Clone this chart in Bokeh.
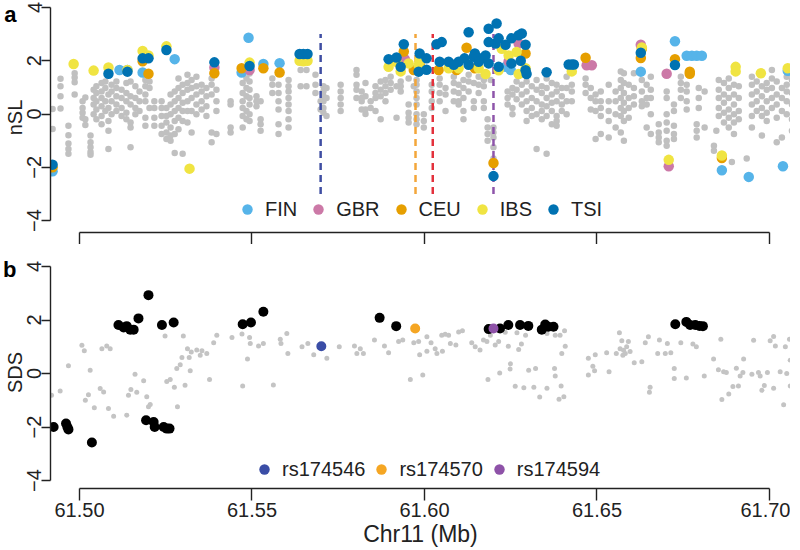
from bokeh.plotting import figure
from bokeh.models import Range1d, FixedTicker, LinearAxis
from bokeh.layouts import column
from bokeh.embed import file_html
from bokeh.resources import INLINE

# ---------------- data ----------------
x_ticks = [61.50, 61.55, 61.60, 61.65, 61.70]
x_tick_labels = ["61.50", "61.55", "61.60", "61.65", "61.70"]
y_ticks = [-4, -2, 0, 2, 4]

# panel a: grey nSL values (position, values of the SNP across populations)
nsl_grey = [
    (61.4922, [0.19, -0.56]), (61.4945, [1.32, 1.04, 0.67, 0.21]),
    (61.4968, [-0.44, -0.80, -1.11, -1.31, -1.49]), (61.4986, [1.53, 1.37, 1.19, 0.73]),
    (61.5009, [0.48, 0.23, 0.05, -0.14]), (61.5017, [-0.20, -0.41, 0.62]),
    (61.5032, [-0.81, -1.06, -1.25, -1.43, -1.53]), (61.5041, [0.91, 0.60, 0.36, -0.01]),
    (61.5049, [1.04, 0.79, 0.48, 0.17, -0.20]), (61.5064, [1.16, 0.85, 0.60, 0.29, -0.07, -0.38]),
    (61.5075, [1.22, 0.98, 0.48, 0.11]), (61.5084, [0.73, 0.23, -0.26, -0.63, -1.31]),
    (61.5093, [1.10, 0.85, 0.48, -0.01]), (61.5107, [1.22, 0.98, 0.67, 0.36, 0.11]),
    (61.5122, [0.91, 0.60, 0.23, -0.07]), (61.5136, [1.16, 0.79, 0.48, 0.05, -0.20]),
    (61.5148, [1.22, 0.67, 0.36, -0.32, -0.51, -1.25]), (61.5162, [1.04, 0.60, 0.23, -0.01]),
    (61.5174, [0.85, 0.48, 0.11]), (61.5191, [1.28, 1.04, 0.73, 0.48, -0.14, -0.44]),
    (61.5203, [1.22, 0.98, 0.23]), (61.5217, [0.48, 0.23, -0.14, -0.44]),
    (61.5238, [0.48, 0.23, -0.07, -0.44, -0.75]), (61.5252, [0.23, -0.07, -0.32, -0.69, -0.94]),
    (61.5264, [0.73, 0.36, -0.01, -0.51, -0.81, -1.00]), (61.5276, [0.85, 0.48, 0.11, -0.26, -0.75, -1.46]),
    (61.5287, [1.33, 0.98, 0.60, 0.23, -0.14, -0.57]), (61.5299, [1.10, 0.79, 0.42, 0.11, -0.26, -1.49]),
    (61.5313, [1.47, 1.16, 0.91, 0.48, 0.11, -0.32]), (61.5325, [1.28, 0.98, 0.60, 0.11, -0.69]),
    (61.5339, [1.40, 1.04, 0.73, 0.36, -0.01]), (61.5354, [1.10, 0.85, 0.48, 0.17]),
    (61.5368, [0.98, 0.67, 0.29, -0.07]), (61.5383, [1.33, 1.10, 0.73, -0.69, -1.06]),
    (61.5397, [0.91, 0.48, 0.11, -0.75]), (61.5438, [0.48, 0.36, -0.51, -0.69]),
    (61.5473, [1.16, 0.79, 0.48, 0.23, -0.07, -0.51]), (61.5484, [1.33, 0.98, 0.67, 0.11, -0.20]),
    (61.5493, [1.52, 1.22, 0.91, 0.60, 0.36, -0.01, -0.26]), (61.5513, [0.67, 0.48, 0.29]),
    (61.5525, [0.48, -0.20, -0.38, -0.63]), (61.5559, [1.33, 1.10, 0.79]),
    (61.5577, [1.10, 0.79, 0.48, 0.17, -0.38, -0.75]),
    (61.5606, [1.28, 1.04, 0.85, 0.60, 0.36, 0.11, -0.20, -0.51]),
    (61.5641, [1.65, 1.04]), (61.5658, [1.65, 1.04]), (61.5684, [1.47, 1.10, 0.79]),
    (61.5699, [0.48, 0.17]), (61.5707, [1.04, 0.85, 0.67, 0.48, 0.23, 0.05]),
    (61.5716, [0.98, 0.60, -0.07]), (61.5757, [1.10, 0.85, 0.60, 0.36, 0.11]),
    (61.5803, [1.65, 1.47, 1.10, 0.91, 0.60]), (61.5818, [0.85, 0.60, 0.48, 0.17]),
    (61.5829, [1.16, 0.67, 0.17, 0.00]), (61.5844, [0.48, 0.23]),
    (61.5858, [1.04, 0.79, 0.60, 0.11]), (61.5873, [1.22, 0.91, 0.67, -0.20]),
    (61.5887, [1.28, 1.04, 0.79, 0.48]), (61.5902, [1.40, 1.16, 0.91]),
    (61.5919, [1.04, -0.14]), (61.5931, [1.22, 1.04, 0.85]),
    (61.5954, [1.33, 0.36, 0.05, -0.14, -0.32]), (61.5969, [1.04]),
    (61.5977, [1.28, 1.10, 0.85, 0.60, 0.36, -0.01, -0.20, -0.38]),
    (61.5998, [-0.01, -0.26, -0.51]), (61.6021, [1.10, 0.85, 0.48, 0.23]),
    (61.6044, [1.33, 1.10, 0.79, 0.48]), (61.6061, [0.98, 0.73, 0.11]),
    (61.6085, [1.40, 1.16, 0.85, 0.48]), (61.6099, [1.10, 0.79, 0.48, 0.36]),
    (61.6113, [1.28, 0.98, 0.60, 0.11, -0.20]), (61.6128, [1.47, 1.22, 0.85]),
    (61.6143, [1.16, 0.48, 0.23]), (61.6157, [1.40, 1.10, 0.79]),
    (61.6172, [1.28, 1.04, 0.48, 0.23]), (61.6183, [-0.20, -0.51, -0.75, -1.00]),
    (61.6192, [1.28]), (61.6200, [-0.51, -0.69, -0.88, -1.25, -1.67]),
    (61.6241, [0.85, 0.60, 0.36]), (61.6255, [0.98, 0.73, 0.23, -0.01]),
    (61.6267, [1.22, 0.91, 0.55]), (61.6282, [1.47, 1.10, 0.73, 0.36]),
    (61.6296, [1.22, 0.85, 0.48, 0.11, -0.26]), (61.6311, [1.04, 0.60, 0.23, -0.07]),
    (61.6325, [1.28, 0.91, 0.48, -0.01, -1.31]), (61.6340, [1.04, 0.79, 0.36, 0.11, -0.20]),
    (61.6354, [1.33, 0.98, 0.60, 0.29, -0.07, -1.49]), (61.6369, [1.16, 0.73, 0.42, 0.11, -0.38]),
    (61.6383, [1.10, 0.85, 0.48, -0.07, -0.26, -0.44]), (61.6398, [0.98, 0.67, 0.36, 0.11]),
    (61.6412, [1.40, 0.98, 0.48, -0.01]), (61.6427, [1.10, 0.85, 0.48]),
    (61.6467, [1.33, 1.10, 0.79]), (61.6482, [0.98, 0.60, 0.17]),
    (61.6496, [0.73, 0.48, 0.11, -0.94]), (61.6511, [0.85, 0.48, 0.23, -0.07, -0.75]),
    (61.6534, [1.10, 0.48, 0.11, -0.26, -0.88]), (61.6554, [0.85, 0.48, -0.01, -0.51]),
    (61.6569, [1.60, 1.28, 0.98, 0.60, 0.23, -0.07, -0.69]),
    (61.6578, [1.53, 1.16, 0.79, 0.42, 0.11, -0.26, -1.00]),
    (61.6592, [1.10, 0.60, 0.23, -0.14]), (61.6607, [1.53, 0.98, 0.67, 0.36]),
    (61.6630, [1.28, 0.85, 0.48, 0.29]), (61.6644, [1.10, 0.60, 0.36, -0.51]),
    (61.6656, [1.40, 0.91, 0.60, -0.01, -0.75]), (61.6679, [-0.38, -0.69, -0.88, -1.06]),
    (61.6702, [0.85, 0.60, -0.01, -0.32, -0.63, -1.00, -1.19]),
    (61.6723, [0.36, 0.11, -0.44, -0.75, -0.94]), (61.6743, [1.40, 1.16, 0.91, 0.60]),
    (61.6760, [1.10, 0.85, 0.48, 0.17]), (61.6789, [-0.38, -0.63, -0.88]),
    (61.6795, [0.98, 0.60, 0.23]), (61.6812, [0.85, -0.51]),
    (61.6839, [-1.19, -1.38]), (61.6846, [-0.63]),
    (61.6853, [1.28, 0.91, 0.60, 0.23, -0.07]), (61.6868, [1.16, 0.73, 0.42, 0.05, -0.32]),
    (61.6882, [1.33, 0.98, 0.60, 0.17, -0.14, -0.51]), (61.6891, [-1.80]),
    (61.6897, [1.10, 0.73, 0.36, -0.01, -0.32, -0.75]), (61.6911, [1.04, 0.60, 0.11, -0.20]),
    (61.6934, [-1.67]), (61.6949, [1.40, 1.10, 0.73, 0.36, -0.07, -0.51]),
    (61.6963, [1.22, 0.85, 0.48, 0.11]), (61.6978, [1.04, 0.67, 0.23, -0.07, -0.81]),
    (61.6992, [1.16, 0.91, 0.48, 0.05, -0.26]), (61.7007, [1.65, 1.33, 0.98, 0.60, 0.23]),
    (61.7021, [1.22, 0.73, 0.36, -0.14, -1.06]), (61.7036, [0.98, 0.60, 0.11, -0.88]),
    (61.7050, [1.40, 1.10, 0.85, 0.48, -0.01]), (61.7065, [1.28, 0.79, 0.36, -0.20, -0.63]),
]

# panel a: significant nSL per population
fin_pos = [61.4922, 61.5116, 61.5139, 61.5183, 61.5276, 61.5470, 61.5490, 61.5533, 61.5580,
           61.6235, 61.6250, 61.6627, 61.6726, 61.6760, 61.6775, 61.6789, 61.6804, 61.7053,
           61.6862, 61.6940, 61.7039, 61.7076]
fin_nsl = [-2.15, 1.65, 1.65, 1.56, 2.06, 1.56, 2.86, 1.88, 1.91,
           1.77, 1.65, 1.59, 2.73, 2.19, 2.19, 2.19, 2.19, 1.62,
           -2.11, -2.36, -1.96, -1.90]

gbr_pos = [61.5391, 61.5493, 61.5943, 61.6244, 61.6273, 61.6470, 61.6485, 61.6627, 61.6702, 61.6708]
gbr_nsl = [1.75, 1.65, 2.06, 1.98, 2.65, 1.83, 1.83, 2.60, 1.51, -1.96]

ceu_pos = [61.4922, 61.5183, 61.5200, 61.5391, 61.5470, 61.5533, 61.5580, 61.5940, 61.5969,
           61.5986, 61.6041, 61.6093, 61.6122, 61.6146, 61.6293, 61.6467, 61.6627, 61.6726,
           61.6769, 61.6769, 61.6200, 61.6862, 61.6630]
ceu_nsl = [-2.00, 1.98, 1.51, 1.53, 1.72, 1.72, 1.56, 2.35, 1.65,
           1.85, 1.65, 1.65, 2.49, 1.72, 2.27, 2.11, 2.10, 2.06,
           1.59, 1.51, -1.84, -1.65, 2.45]

ibs_pos = [61.4983, 61.5041, 61.5084, 61.5139, 61.5183, 61.5200, 61.5252, 61.5319, 61.5493,
           61.5638, 61.5649, 61.5661, 61.5896, 61.5919, 61.5931, 61.5954, 61.5983, 61.5986,
           61.6070, 61.6099, 61.6157, 61.6177, 61.6215, 61.6224, 61.6244, 61.6267, 61.6273,
           61.6293, 61.6427, 61.6630, 61.6902, 61.6902, 61.6975, 61.7053, 61.6708, 61.6862]
ibs_nsl = [1.88, 1.63, 1.75, 1.65, 2.37, 2.20, 2.54, -2.05, 1.93,
           2.00, 1.98, 2.00, 1.77, 1.96, 1.60, 1.90, 1.83, 2.00,
           1.72, 1.72, 1.72, 1.50, 1.64, 2.45, 2.20, 2.33, 1.50,
           1.72, 1.60, 2.50, 1.77, 1.60, 1.53, 1.72, -1.72, -1.56]

tsi_pos = [61.4922, 61.5084, 61.5139, 61.5183, 61.5200, 61.5252, 61.5391, 61.5493, 61.5638,
           61.5649, 61.5661, 61.5896, 61.5919, 61.5931, 61.5940, 61.5986, 61.5983, 61.6006,
           61.6006, 61.6035, 61.6050, 61.6044, 61.6070, 61.6099, 61.6116, 61.6128, 61.6143,
           61.6146, 61.6166, 61.6177, 61.6186, 61.6186, 61.6186, 61.6206, 61.6209, 61.6215,
           61.6215, 61.6235, 61.6252, 61.6252, 61.6273, 61.6279, 61.6282, 61.6293, 61.6293,
           61.6296, 61.6200, 61.6354, 61.6418, 61.6427, 61.6433, 61.6627, 61.6726, 61.6085,
           61.6157, 61.6128]
tsi_nsl = [-1.90, 1.51, 1.59, 2.09, 2.09, 2.40, 1.94, 1.80, 2.25,
           2.25, 2.25, 2.06, 2.12, 1.77, 2.62, 2.27, 1.59, 2.09,
           1.66, 2.62, 2.70, 1.96, 1.96, 1.96, 2.09, 3.07, 2.15,
           2.27, 2.09, 2.20, 3.20, 2.70, 1.90, 2.65, 3.40, 2.84,
           1.77, 2.60, 2.84, 1.90, 2.96, 2.00, 3.02, 2.60, 1.64,
           1.50, -2.33, 1.57, 1.86, 1.86, 1.86, 2.30, 1.84, 1.85,
           1.96, 1.85]

pop_names = ["FIN", "GBR", "CEU", "IBS", "TSI"]
pop_colors = ["#56B4E9", "#CC79A7", "#E69F00", "#F0E442", "#0072B2"]

# SNP markers (dashed lines in a, highlighted in b)
snp_line_pos = [61.5699, 61.5974, 61.6024, 61.6200]
snp_line_colors = ["#3F4EA2", "#F3A63A", "#E3313C", "#8E55AA"]

# panel b: SDS
sds_grey = [
    (61.4919, -0.81), (61.4944, -0.65), (61.4968, 0.29), (61.5007, 1.06), (61.5014, 0.85),
    (61.5031, 0.12), (61.5017, -1.00), (61.5026, -0.79), (61.5043, -1.28), (61.5060, -0.56),
    (61.5070, -0.69), (61.5065, 0.93), (61.5079, 1.03), (61.5089, 0.93), (61.5084, -1.31),
    (61.5099, -1.60), (61.5137, -1.56), (61.5142, -0.81), (61.5149, -0.60), (61.5161, -0.03),
    (61.5166, -0.70), (61.5186, -0.27), (61.5195, -0.87), (61.5200, -1.24), (61.5205, -1.16),
    (61.5248, 1.40), (61.5253, -0.30), (61.5263, -0.22), (61.5275, -0.51), (61.5282, 0.19),
    (61.5284, -1.24), (61.5292, 0.33), (61.5297, 0.60), (61.5301, 1.40), (61.5306, -0.44),
    (61.5313, 0.93), (61.5318, 0.60), (61.5321, 0.10), (61.5324, 0.80), (61.5340, 0.88),
    (61.5350, 0.68), (61.5355, 0.85), (61.5369, 0.75), (61.5377, -0.22), (61.5389, 1.15),
    (61.5398, 1.43), (61.5442, 1.35), (61.5471, 1.48), (61.5473, -0.47), (61.5487, 0.54),
    (61.5493, 1.35), (61.5495, 1.12), (61.5519, 1.03), (61.5533, 1.12), (61.5562, -0.43),
    (61.5582, 1.28), (61.5584, 1.12), (61.5601, 1.50), (61.5604, 0.75), (61.5645, 1.00),
    (61.5662, 1.12), (61.5679, 0.70), (61.5707, 1.00), (61.5717, 0.57), (61.5753, 1.00),
    (61.5797, 1.03), (61.5804, 0.75), (61.5814, 0.93), (61.5823, 0.75), (61.5855, 1.25),
    (61.5884, 1.03), (61.5896, 0.78), (61.5925, 1.20), (61.5937, 1.25), (61.5959, -0.22),
    (61.5969, 1.15), (61.5983, 1.20), (61.5986, 0.70), (61.5995, -0.06), (61.6007, 1.37),
    (61.6007, 0.83), (61.6019, 1.15), (61.6031, 0.93), (61.6036, 0.75), (61.6050, 1.43),
    (61.6052, 0.83), (61.6060, 1.47), (61.6070, 1.43), (61.6075, 1.12), (61.6091, 1.07),
    (61.6099, 1.55), (61.6110, 1.60), (61.6137, 1.15), (61.6147, 1.00), (61.6161, 0.88),
    (61.6171, 1.25), (61.6181, 1.20), (61.6184, -0.22), (61.6191, 1.43), (61.6205, 1.07),
    (61.6215, 1.20), (61.6218, 0.02), (61.6234, 1.54), (61.6243, 1.02), (61.6248, 0.17),
    (61.6249, 0.36), (61.6263, -0.48), (61.6268, 1.52), (61.6273, 0.90), (61.6281, 1.10),
    (61.6288, -0.53), (61.6293, 1.43), (61.6302, 0.12), (61.6317, -0.51), (61.6322, 0.19),
    (61.6334, -0.88), (61.6355, -0.55), (61.6355, 1.50), (61.6379, 1.43), (61.6393, 1.43),
    (61.6406, 1.60), (61.6408, 1.02), (61.6398, 0.75), (61.6377, 0.19), (61.6379, -0.09),
    (61.6396, -0.47), (61.6390, -0.96), (61.6404, -0.87), (61.6475, 0.57), (61.6495, 0.70),
    (61.6475, -0.06), (61.6488, 0.27), (61.6493, 0.10), (61.6528, 0.78), (61.6535, 0.07),
    (61.6565, 1.52), (61.6556, 0.75), (61.6567, 0.93), (61.6572, 1.22), (61.6577, 0.87),
    (61.6582, 0.75), (61.6575, 0.68), (61.6591, 1.20), (61.6596, 0.82), (61.6586, 1.00),
    (61.6608, 0.40), (61.6630, 0.44), (61.6640, 1.15), (61.6649, 1.37), (61.6654, -0.51),
    (61.6652, -0.70), (61.6676, 0.75), (61.6681, 1.25), (61.6698, 0.75), (61.6704, 1.12),
    (61.6714, 0.78), (61.6724, 0.19), (61.6724, -0.19), (61.6743, 1.15), (61.6759, -0.17),
    (61.6778, 1.10), (61.6788, 1.00), (61.6811, -0.09), (61.6838, 0.54), (61.6859, 1.28),
    (61.6852, 0.14), (61.6867, 0.07), (61.6875, 0.04), (61.6862, -0.97), (61.6882, -0.77),
    (61.6894, -0.49), (61.6904, 0.20), (61.6910, -0.47), (61.6915, -0.09), (61.6925, 0.54),
    (61.6923, 0.04), (61.6949, -0.03), (61.6954, 1.24), (61.6968, 0.04), (61.6973, -0.09),
    (61.6978, -0.63), (61.6985, -0.45), (61.6994, 0.04), (61.7002, 1.22), (61.7012, 1.38),
    (61.7017, 1.03), (61.7012, -0.55), (61.7031, 0.07), (61.7041, -1.17), (61.7046, 1.00),
    (61.7050, 0.00), (61.7058, 1.28), (61.7060, 0.50), (61.7060, -0.47),
]

sds_sig = [
    (61.4925, -2.00), (61.4961, -1.87), (61.4965, -2.00), (61.4968, -2.09), (61.5036, -2.58),
    (61.5113, 1.81), (61.5128, 1.72), (61.5137, 1.77), (61.5147, 1.64), (61.5157, 1.64),
    (61.5171, 2.06), (61.5200, 2.93), (61.5193, -1.75), (61.5215, -1.81), (61.5218, -2.00),
    (61.5244, -2.00), (61.5253, -2.06), (61.5261, -2.06), (61.5239, 1.81), (61.5273, 1.91),
    (61.5473, 1.84), (61.5497, 1.91), (61.5533, 2.31), (61.5870, 2.08), (61.5918, 1.77),
    (61.6186, 1.66), (61.6219, 1.68), (61.6243, 1.81), (61.6277, 1.81), (61.6301, 1.78),
    (61.6340, 1.64), (61.6350, 1.83), (61.6359, 1.75), (61.6374, 1.75), (61.6727, 1.84),
    (61.6759, 1.93), (61.6770, 1.81), (61.6785, 1.81), (61.6797, 1.78), (61.6807, 1.77),
]

snp_names = ["rs174546", "rs174570", "rs174594"]
snp_pos = [61.5701, 61.5973, 61.6200]
snp_sds = [1.02, 1.68, 1.68]
snp_colors = ["#3A4DA6", "#F5A623", "#8E52A8"]

panel_tags = ["a", "b"]

# ---------------- styling ----------------
FONT = "Liberation Sans"
INK = "#222222"
FW = 740
SCALE = 3450.0          # pixels per Mb
X0 = 61.4916
X1 = X0 + FW / SCALE
xr = Range1d(X0, X1)


def base_style(p, ylabel, tag, tag_y):
    p.outline_line_color = None
    p.grid.visible = False
    p.background_fill_color = "white"
    p.border_fill_color = "white"
    for ax in (p.xaxis[0], p.yaxis[0]):
        ax.axis_line_color = INK
        ax.axis_line_width = 1.4
        ax.major_tick_line_color = INK
        ax.major_tick_line_width = 1.4
        ax.minor_tick_line_color = None
        ax.major_tick_in = 0
        ax.major_label_text_font = FONT
        ax.major_label_text_color = INK
        ax.major_label_text_font_size = "20px"
        ax.axis_label_text_font = FONT
        ax.axis_label_text_font_style = "normal"
        ax.axis_label_text_color = INK
    xa = p.xaxis[0]
    xa.bounds = (x_ticks[0], x_ticks[-1])
    xa.ticker = FixedTicker(ticks=x_ticks)
    xa.major_label_overrides = dict(zip(x_ticks, x_tick_labels))
    xa.major_tick_out = 12
    ya = p.yaxis[0]
    ya.bounds = (y_ticks[0], y_ticks[-1])
    ya.ticker = FixedTicker(ticks=y_ticks)
    ya.major_tick_out = 9
    ya.major_label_orientation = "vertical"
    ya.major_label_standoff = 0
    ya.axis_label = ylabel
    ya.axis_label_text_font_size = "20px"
    ya.axis_label_standoff = -1
    # panel letter: the only label of an outer, line-less left axis, pulled
    # inward so that it sits above the axis title instead of taking a column
    tag_axis = LinearAxis(ticker=FixedTicker(ticks=[tag_y]),
                          major_label_overrides={tag_y: tag},
                          axis_line_color=None, major_tick_line_color=None,
                          minor_tick_line_color=None, major_tick_out=0, major_tick_in=0,
                          major_label_standoff=-16, major_label_orientation="horizontal",
                          major_label_text_font=FONT, major_label_text_font_size="22px",
                          major_label_text_font_style="bold", major_label_text_color="black")
    p.add_layout(tag_axis, "left")


def style_legend(lg, loc, spacing):
    lg.orientation = "horizontal"
    lg.location = loc
    lg.glyph_width = 26
    lg.glyph_height = 26
    lg.label_height = 26
    lg.label_standoff = 5
    lg.spacing = spacing
    lg.padding = 0
    lg.margin = 0
    lg.border_line_color = None
    lg.background_fill_alpha = 0
    lg.label_text_font = FONT
    lg.label_text_font_size = "20px"
    lg.label_text_color = INK


# ---------------- panel a ----------------
ya_top, ya_bot = 4.186, -4.447
pa = figure(frame_width=FW, frame_height=230, x_range=xr, y_range=Range1d(ya_bot, ya_top),
            output_backend="svg", toolbar_location=None,
            min_border_top=2, min_border_bottom=0, min_border_right=0, min_border_left=0)
base_style(pa, "nSL", panel_tags[0], 3.85)
pa.xaxis[0].major_label_text_font_size = "1px"
pa.xaxis[0].major_label_text_color = None
pa.xaxis[0].major_label_standoff = 0

gx = [pos for pos, ys in nsl_grey for _ in ys]
gy = [y for _, ys in nsl_grey for y in ys]
pa.scatter(gx, gy, size=6.5, color="#C0C0C0", line_color=None)
pa.segment(x0=snp_line_pos, y0=-3, x1=snp_line_pos, y1=3, line_color=snp_line_colors,
           line_width=2.5, line_dash="7 5")
for name, col, xs, ys in zip(pop_names, pop_colors,
                             [fin_pos, gbr_pos, ceu_pos, ibs_pos, tsi_pos],
                             [fin_nsl, gbr_nsl, ceu_nsl, ibs_nsl, tsi_nsl]):
    pa.scatter(xs, ys, size=10.5, color=col, line_color=None, legend_label=name)
style_legend(pa.legend[0], (184, 10), 8)

# ---------------- panel b ----------------
yb_top, yb_bot = 4.374, -4.299
pb = figure(frame_width=FW, frame_height=232, x_range=xr, y_range=Range1d(yb_bot, yb_top),
            output_backend="svg", toolbar_location=None,
            min_border_top=12, min_border_bottom=0, min_border_right=0, min_border_left=0)
base_style(pb, "SDS", panel_tags[1], 3.89)
pb.xaxis[0].major_label_standoff = 2
pb.xaxis[0].axis_label = "Chr11 (Mb)"
pb.xaxis[0].axis_label_text_font_size = "23px"
pb.xaxis[0].axis_label_standoff = 1

pb.scatter([p for p, _ in sds_grey], [v for _, v in sds_grey], size=5, color="#C4C4C4", line_color=None)
pb.scatter([p for p, _ in sds_sig], [v for _, v in sds_sig], size=10, color="black", line_color=None)
for name, col, xp, yv in zip(snp_names, snp_colors, snp_pos, snp_sds):
    pb.scatter([xp], [yv], size=10, color=col, line_color=None, legend_label=name)
style_legend(pb.legend[0], (201, 6), 3)

layout = column(pa, pb, spacing=0)
open("out.html", "w").write(file_html(layout, INLINE))
